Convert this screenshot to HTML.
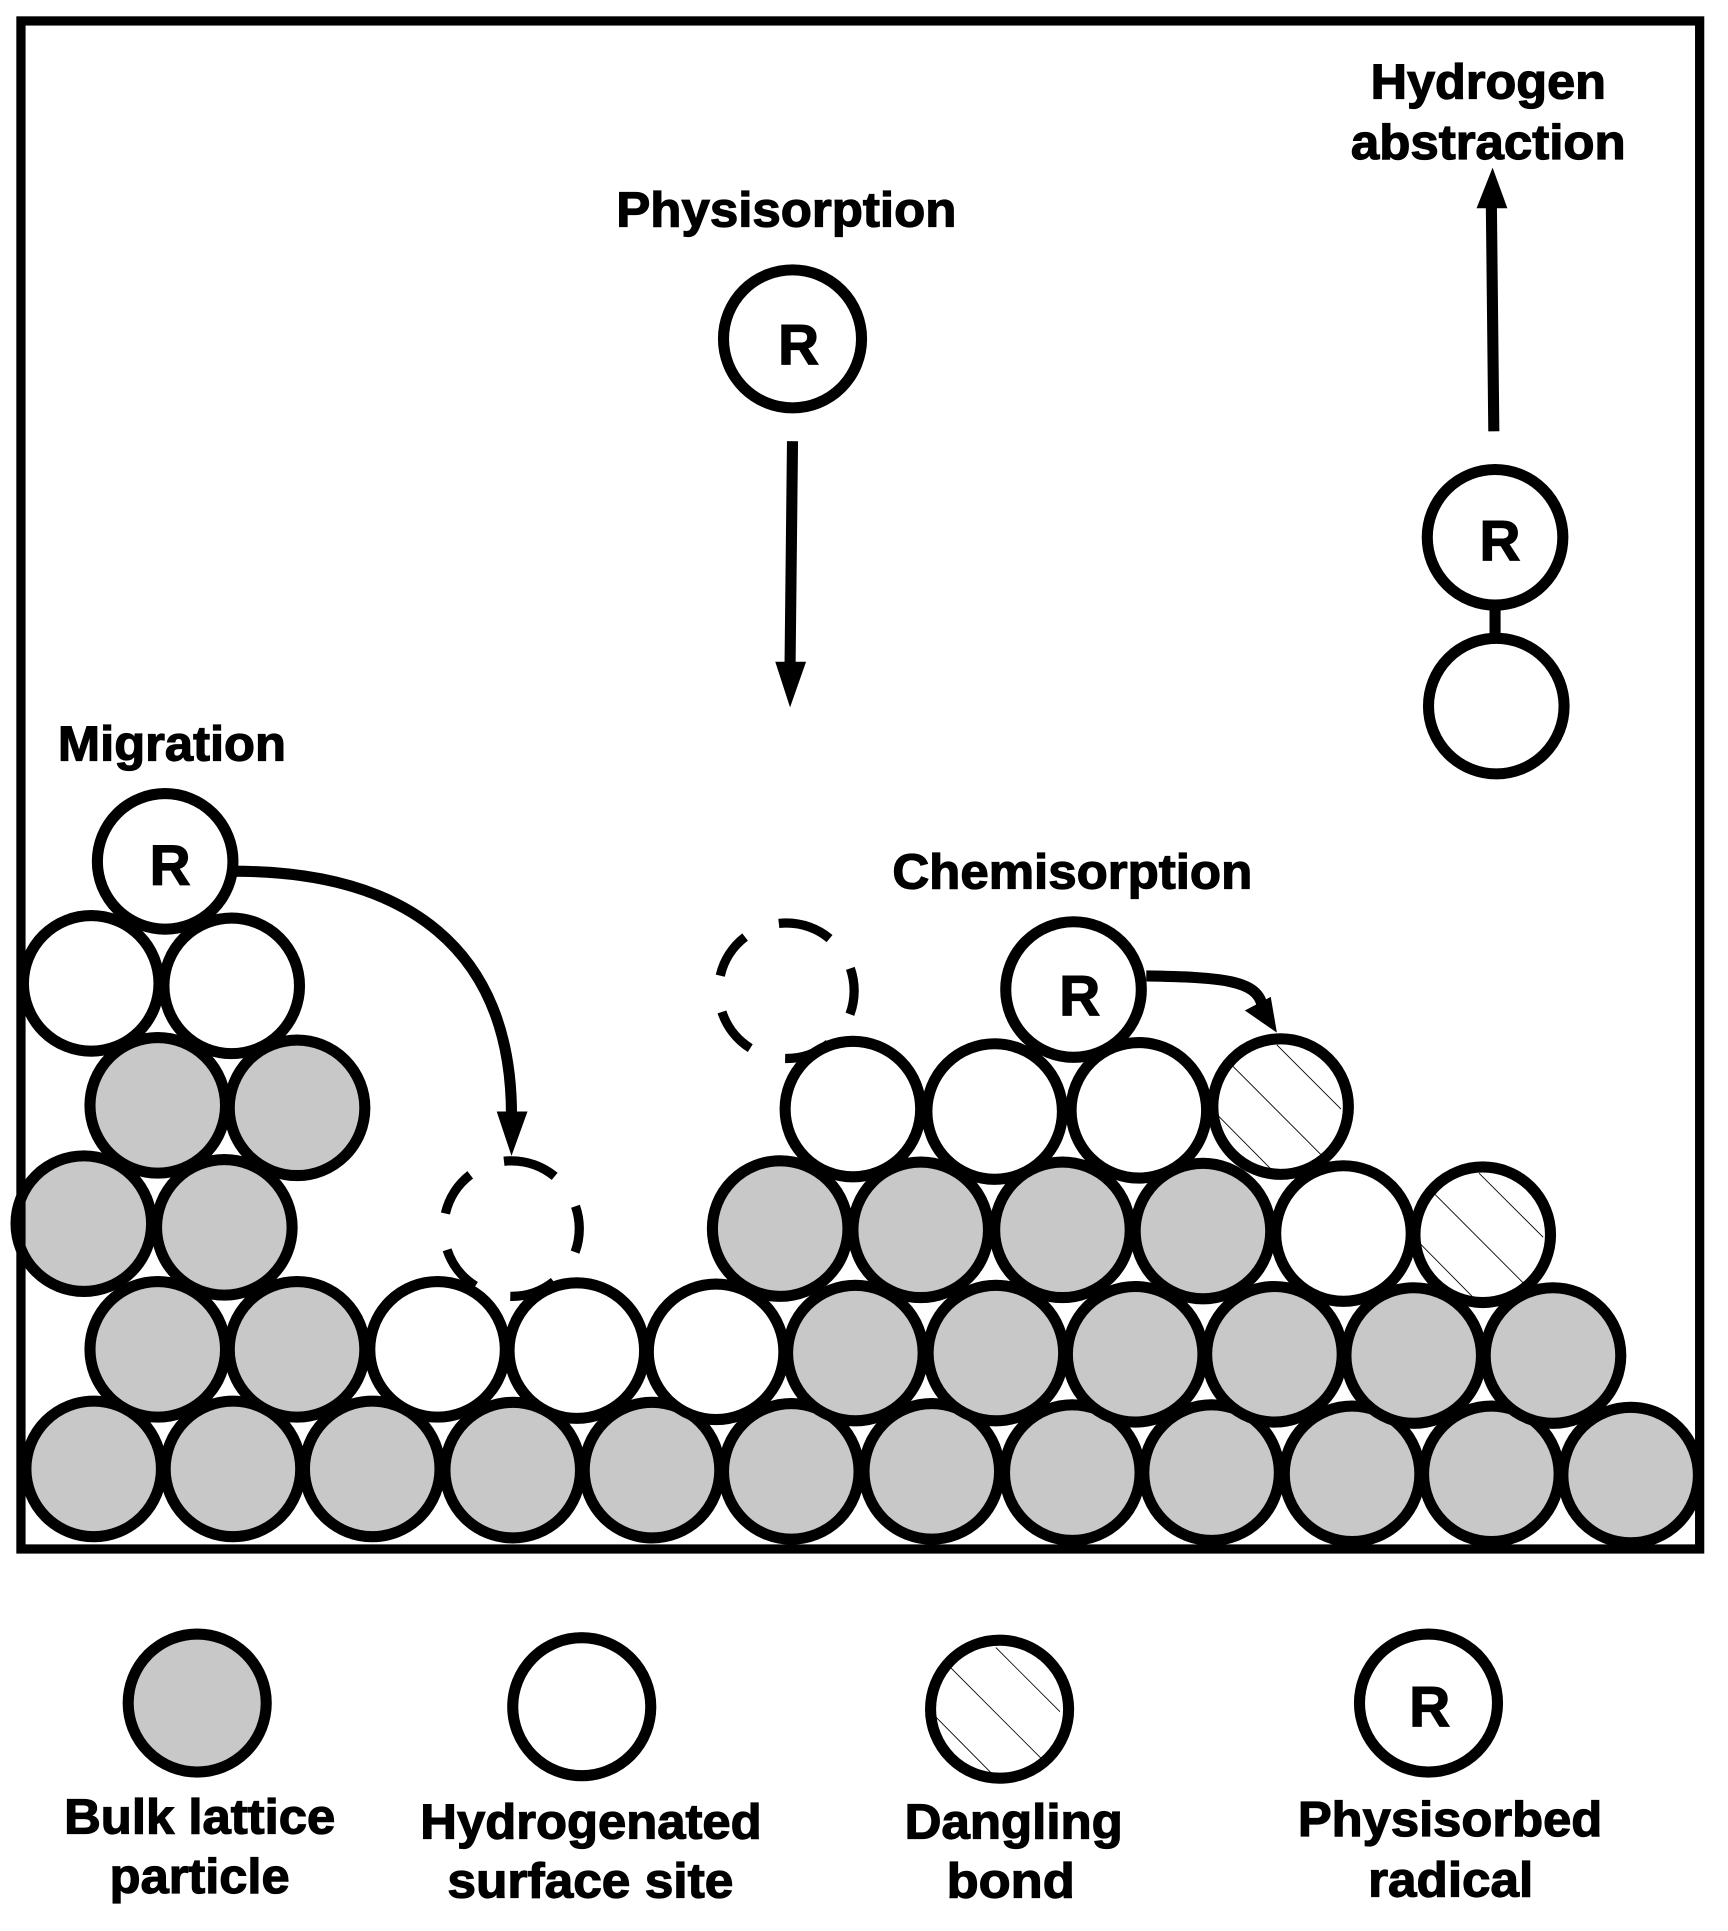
<!DOCTYPE html>
<html>
<head>
<meta charset="utf-8">
<style>
html,body{margin:0;padding:0;background:#fff;}
svg{display:block;}
text{font-family:"Liberation Sans",Arial,sans-serif;font-weight:bold;fill:#000;stroke:#000;stroke-width:1;font-size:40px;}
.r{font-size:46px;text-anchor:middle;}
.g{fill:#c8c8c8;stroke:#000;stroke-width:9;}
.w{fill:#fff;stroke:#000;stroke-width:9;}
.d{fill:none;stroke:#000;stroke-width:7.5;stroke-dasharray:38 29.86;}
.h{fill:none;stroke:#000;stroke-width:.7;}
.l{fill:none;stroke:#000;stroke-width:9;}
</style>
</head>
<body>
<svg xmlns="http://www.w3.org/2000/svg" width="1728" height="1931" viewBox="0 0 1402 1567" preserveAspectRatio="none">
<rect x="0" y="0" width="1402" height="1567" fill="#fff"/>

<!-- bottom row -->
<circle class="g" cx="76" cy="1192" r="55"/>
<circle class="g" cx="189" cy="1192" r="55"/>
<circle class="g" cx="302" cy="1192" r="55"/>
<circle class="g" cx="416" cy="1193" r="55"/>
<circle class="g" cx="529" cy="1193" r="55"/>
<circle class="g" cx="642" cy="1194" r="55"/>
<circle class="g" cx="756" cy="1194" r="55"/>
<circle class="g" cx="870" cy="1195" r="55"/>
<circle class="g" cx="983" cy="1195" r="55"/>
<circle class="g" cx="1097" cy="1196" r="55"/>
<circle class="g" cx="1210" cy="1196" r="55"/>
<circle class="g" cx="1323" cy="1197" r="55"/>

<!-- row 2 -->
<circle class="g" cx="128" cy="1095" r="55"/>
<circle class="g" cx="241" cy="1095" r="55"/>
<circle class="w" cx="355" cy="1095" r="55"/>
<circle class="w" cx="468" cy="1096" r="55"/>
<circle class="w" cx="581" cy="1097" r="55"/>
<circle class="g" cx="694" cy="1098" r="55"/>
<circle class="g" cx="808" cy="1098" r="55"/>
<circle class="g" cx="921" cy="1099" r="55"/>
<circle class="g" cx="1034" cy="1099" r="55"/>
<circle class="g" cx="1147" cy="1100" r="55"/>
<circle class="g" cx="1260" cy="1100" r="55"/>

<!-- row 3 -->
<circle class="g" cx="68" cy="993" r="55"/>
<circle class="g" cx="182" cy="996" r="55"/>
<circle class="g" cx="633" cy="997" r="55"/>
<circle class="g" cx="747" cy="998" r="55"/>
<circle class="g" cx="862" cy="998" r="55"/>
<circle class="g" cx="976" cy="999" r="55"/>
<circle class="w" cx="1090" cy="1001" r="55"/>
<circle class="w" cx="1203" cy="1002" r="55"/>
<path class="h" transform="translate(1203,1002)" d="M-3,-50L49,2M-40.5,-34.5L33.8,40M-55,3L-4,54.6"/>

<!-- row 4 -->
<circle class="g" cx="128" cy="897" r="55"/>
<circle class="g" cx="241" cy="899" r="55"/>
<circle class="w" cx="692" cy="900" r="55"/>
<circle class="w" cx="807" cy="902" r="55"/>
<circle class="w" cx="924" cy="901" r="55"/>
<circle class="w" cx="1039" cy="898" r="55"/>
<path class="h" transform="translate(1039,898)" d="M-3,-50L49,2M-40.5,-34.5L33.8,40M-55,3L-4,54.6"/>

<!-- row 5 -->
<circle class="w" cx="74" cy="798" r="55"/>
<circle class="w" cx="188" cy="800" r="55"/>
<circle class="w" cx="134" cy="699" r="55"/>
<circle class="w" cx="871" cy="803" r="55"/>

<!-- free circles -->
<circle class="w" cx="643" cy="275" r="56"/>
<line x1="1213" y1="490" x2="1213" y2="518" stroke="#000" stroke-width="9"/>
<circle class="w" cx="1213" cy="436" r="55"/>
<circle class="w" cx="1214" cy="573" r="55"/>

<!-- dashed -->
<circle class="d" cx="415" cy="997" r="55" transform="rotate(-90 415 997)"/>
<circle class="d" cx="638" cy="804" r="55" transform="rotate(-90 638 804)"/>

<!-- frame -->
<rect x="17" y="17" width="1362" height="1240" fill="none" stroke="#000" stroke-width="7.5"/>

<!-- arrows -->
<line class="l" x1="643" y1="358" x2="641" y2="540"/>
<polygon points="629,537 654,537 641,574" fill="#000"/>
<line class="l" x1="1212" y1="350" x2="1210" y2="166"/>
<polygon points="1198,169 1223,169 1211,136" fill="#000"/>
<path class="l" d="M190,707C330,707 415,770 415,905"/>
<polygon points="403,902 428,902 415,938" fill="#000"/>
<path class="l" d="M930,792C990,793 1020,795 1024,816"/>
<polygon points="1031,809 1010,820 1036,838" fill="#000"/>

<!-- R labels -->
<text class="r" x="138" y="718">R</text>
<text class="r" x="648" y="296">R</text>
<text class="r" x="1217" y="455">R</text>
<text class="r" x="876" y="824">R</text>

<!-- labels -->
<text x="1112" y="80" textLength="191" lengthAdjust="spacingAndGlyphs">Hydrogen</text>
<text x="1096" y="129" textLength="223" lengthAdjust="spacingAndGlyphs">abstraction</text>
<text x="500" y="184" textLength="276" lengthAdjust="spacingAndGlyphs">Physisorption</text>
<text x="47" y="617" textLength="185" lengthAdjust="spacingAndGlyphs">Migration</text>
<text x="724" y="721" textLength="292" lengthAdjust="spacingAndGlyphs">Chemisorption</text>

<!-- legend -->
<circle class="g" cx="160" cy="1382" r="56"/>
<circle class="w" cx="472" cy="1385" r="56"/>
<circle class="w" cx="811" cy="1387" r="56"/>
<path class="h" transform="translate(811,1387)" d="M-3,-50L49,2M-40.5,-34.5L33.8,40M-55,3L-4,54.6"/>
<circle class="w" cx="1159" cy="1382" r="56"/>
<text class="r" x="1160" y="1401">R</text>

<text x="52" y="1488" textLength="220" lengthAdjust="spacingAndGlyphs">Bulk lattice</text>
<text x="89" y="1536" textLength="146" lengthAdjust="spacingAndGlyphs">particle</text>
<text x="341" y="1492" textLength="277" lengthAdjust="spacingAndGlyphs">Hydrogenated</text>
<text x="363" y="1540" textLength="232" lengthAdjust="spacingAndGlyphs">surface site</text>
<text x="734" y="1492" textLength="177" lengthAdjust="spacingAndGlyphs">Dangling</text>
<text x="768" y="1540" textLength="104" lengthAdjust="spacingAndGlyphs">bond</text>
<text x="1053" y="1490" textLength="247" lengthAdjust="spacingAndGlyphs">Physisorbed</text>
<text x="1110" y="1539" textLength="134" lengthAdjust="spacingAndGlyphs">radical</text>
</svg>
</body>
</html>
